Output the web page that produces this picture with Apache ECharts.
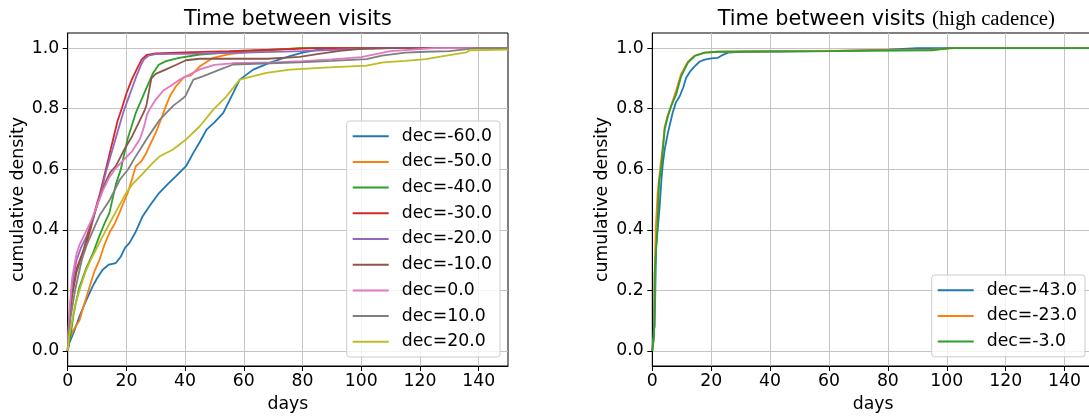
<!DOCTYPE html>
<html><head><meta charset="utf-8">
<script src="https://cdn.jsdelivr.net/npm/echarts@6/dist/echarts.min.js"></script>
<style>html,body{margin:0;padding:0;background:#fff}#c{width:1089px;height:416px}</style>
</head><body><div id="c"></div><script>
const xTicks = [0, 20, 40, 60, 80, 100, 120, 140];
const yTicks = [0, 0.2, 0.4, 0.6, 0.8, 1.0];
const leftNames = ['dec=-60.0','dec=-50.0','dec=-40.0','dec=-30.0','dec=-20.0','dec=-10.0','dec=0.0','dec=10.0','dec=20.0'];
const rightNames = ['dec=-43.0','dec=-23.0','dec=-3.0'];
const colors = ['#1f77b4','#ff7f0e','#2ca02c','#d62728','#9467bd','#8c564b','#e377c2','#7f7f7f','#bcbd22'];

const decM60 = [[0,0],[0.5,0.025],[2,0.06],[4,0.113],[6,0.16],[8.5,0.213],[10,0.24],[11.9,0.268],[14,0.285],[16.4,0.29],[18,0.31],[19.5,0.34],[21,0.356],[23,0.39],[25.5,0.444],[28,0.48],[31.2,0.522],[34,0.55],[36.9,0.577],[40.3,0.61],[42.8,0.654],[45,0.69],[47.3,0.731],[50,0.755],[53,0.786],[56.4,0.852],[58.6,0.896],[63.2,0.929],[68.9,0.952],[75.7,0.974],[80,0.985],[86,0.996],[90,1.0],[150,1.0]];
const decM50 = [[0,0],[0.5,0.036],[2,0.07],[4,0.10],[5.5,0.15],[7.4,0.21],[9,0.26],[10.8,0.30],[12.5,0.35],[14.2,0.39],[16,0.42],[17.6,0.455],[19,0.49],[20.4,0.52],[22,0.57],[23.2,0.61],[25,0.625],[26.6,0.65],[28,0.68],[30,0.72],[32,0.77],[33.5,0.81],[35,0.845],[36.9,0.874],[39.7,0.905],[42,0.91],[45,0.94],[49.6,0.968],[55,0.98],[65,0.99],[79,1.0],[150,1.0]];
const decM40 = [[0,0],[0.5,0.03],[1.1,0.06],[2,0.12],[2.8,0.16],[4,0.21],[6.2,0.27],[8.5,0.32],[10.8,0.38],[12.5,0.42],[14.2,0.455],[16.4,0.55],[18.1,0.60],[20.4,0.70],[23.2,0.786],[26.6,0.863],[29.1,0.918],[31,0.945],[33.5,0.957],[38,0.968],[45,0.979],[60,0.99],[80,1.0],[150,1.0]];
const decM30 = [[0,0],[0.5,0.1],[1.5,0.2],[3,0.27],[4.5,0.31],[6.5,0.36],[8,0.41],[9.5,0.47],[11,0.52],[12.5,0.58],[14,0.64],[15.5,0.70],[17,0.76],[18.4,0.80],[20,0.85],[21.8,0.895],[23.5,0.93],[25.2,0.963],[27,0.978],[30,0.983],[40,0.986],[55,0.99],[75,0.997],[85,1.0],[150,1.0]];
const decM20 = [[0,0],[0.5,0.11],[1.5,0.22],[3,0.30],[4.5,0.34],[6.5,0.38],[8.5,0.43],[10,0.48],[11.5,0.53],[13,0.59],[14.5,0.64],[16,0.69],[17.5,0.74],[19,0.79],[20.5,0.83],[22,0.87],[23.5,0.91],[25,0.945],[26,0.963],[27.5,0.975],[30,0.98],[45,0.982],[60,0.985],[80,0.99],[100,0.998],[110,1.0],[150,1.0]];
const decM10 = [[0,0],[0.5,0.08],[1.5,0.18],[3,0.26],[5,0.32],[7,0.39],[9,0.45],[11,0.51],[13,0.56],[14.5,0.59],[16.4,0.61],[19,0.66],[22,0.71],[24,0.75],[26,0.79],[26.8,0.81],[28.5,0.90],[30,0.915],[33.5,0.93],[37,0.945],[40.3,0.96],[45,0.965],[68,0.965],[79,0.971],[85,0.98],[92.7,0.991],[100,0.998],[110,1.0],[150,1.0]];
const dec0 = [[0,0],[0.5,0.12],[1.5,0.24],[3,0.32],[4,0.35],[6,0.39],[8,0.43],[10,0.48],[12,0.53],[14,0.57],[16.1,0.60],[18,0.62],[20,0.64],[22,0.66],[24.6,0.70],[26,0.74],[27,0.78],[28,0.80],[30,0.83],[32.6,0.86],[35,0.875],[38,0.895],[42,0.915],[45,0.93],[50,0.945],[56,0.95],[70,0.953],[80,0.957],[90,0.963],[100,0.97],[105,0.98],[110,0.99],[120,0.997],[125,1.0],[150,1.0]];
const dec10 = [[0,0],[0.8,0.1],[2.5,0.2],[4.8,0.3],[6.5,0.35],[8.7,0.4],[11,0.45],[14.4,0.5],[17.8,0.566],[20.6,0.6],[23,0.64],[25,0.67],[26.9,0.7],[29,0.73],[31.4,0.764],[34,0.79],[36,0.81],[38,0.825],[40,0.84],[41.5,0.87],[42.8,0.896],[46,0.907],[52,0.93],[56.4,0.946],[79,0.953],[90,0.958],[101.8,0.964],[107,0.975],[115,0.985],[122,0.988],[130,0.99],[139,1.0],[150,1.0]];
const dec20 = [[0,0],[0.5,0.05],[1.5,0.1],[2.5,0.15],[4,0.2],[6,0.26],[7.8,0.3],[9.6,0.334],[12,0.38],[14.2,0.42],[17,0.47],[19.8,0.52],[22,0.55],[25,0.58],[28.9,0.62],[31.4,0.643],[35.9,0.665],[40.5,0.70],[45,0.742],[49.6,0.797],[54.1,0.841],[58.6,0.896],[60.9,0.902],[67.7,0.918],[75.7,0.929],[85.9,0.935],[101.8,0.942],[107.5,0.953],[115,0.958],[122,0.964],[129,0.975],[135.8,0.986],[137,0.993],[150,0.995]];

const hcM43 = [[0,0],[0.5,0.07],[0.8,0.08],[1.3,0.345],[2,0.42],[2.5,0.477],[3.1,0.566],[3.6,0.62],[4.2,0.665],[5.3,0.72],[6.9,0.786],[8,0.82],[9.3,0.841],[10.5,0.87],[11.5,0.902],[13,0.925],[14.4,0.94],[16,0.955],[17.8,0.962],[20,0.966],[22.3,0.968],[24,0.978],[25.7,0.985],[30,0.988],[60,0.99],[80,0.995],[90,1.0],[150,1.0]];
const hcM23 = [[0,0],[0.6,0.05],[0.9,0.3],[1.2,0.41],[1.8,0.52],[2.2,0.56],[3,0.63],[3.6,0.68],[4.2,0.74],[5.3,0.78],[6.4,0.81],[8.1,0.86],[9.8,0.915],[12.1,0.955],[14.4,0.975],[17.8,0.985],[22,0.988],[50,0.99],[95,0.995],[103,1.0],[150,1.0]];
const hcM3 = [[0,0],[0.6,0.05],[0.8,0.257],[1.7,0.40],[2.3,0.555],[3.1,0.61],[3.6,0.665],[4.2,0.731],[5.3,0.775],[6.4,0.808],[8.1,0.847],[9.8,0.907],[12.1,0.952],[14.4,0.974],[17.8,0.985],[22.3,0.988],[60,0.99],[95,0.993],[101,1.0],[150,1.0]];

const leftData = [decM60, decM50, decM40, decM30, decM20, decM10, dec0, dec10, dec20];
const rightData = [hcM43, hcM23, hcM3];

const FONT = 'DejaVu Sans';
const FS = 17.3;
const TFS = 20.8;
function xAxis(i){
  return {type:'value', gridIndex:i, min:0, max:150, interval:20,
    name:'days', nameLocation:'middle', nameGap:30,
    nameTextStyle:{fontFamily:FONT, fontSize:FS, color:'#000'},
    axisLine:{show:true, onZero:false, lineStyle:{color:'#000', width:1}},
    axisTick:{show:true, length:5, customValues:xTicks, lineStyle:{color:'#000', width:1}},
    axisLabel:{customValues:xTicks, fontFamily:FONT, fontSize:FS, color:'#000', margin:7.5},
    splitLine:{show:true, lineStyle:{color:'#c4c4c4', width:1}}};
}
function yAxis(i){
  return {type:'value', gridIndex:i, min:-0.05, max:1.05,
    name:'cumulative density', nameLocation:'middle', nameGap:41,
    nameTextStyle:{fontFamily:FONT, fontSize:FS, color:'#000'},
    axisLine:{show:true, onZero:false, lineStyle:{color:'#000', width:1}},
    axisTick:{show:true, length:5, customValues:yTicks, lineStyle:{color:'#000', width:1}},
    axisLabel:{customValues:yTicks, fontFamily:FONT, fontSize:FS, color:'#000', margin:8.5,
      formatter:v=>Number(v).toFixed(1)},
    splitLine:{show:true, lineStyle:{color:'#c4c4c4', width:1}}};
}
const series = [];
leftData.forEach((d,k)=>series.push({type:'line', name:leftNames[k], xAxisIndex:0, yAxisIndex:0, data:d,
  showSymbol:false, symbol:'none', lineStyle:{width:1.8, color:colors[k]}, itemStyle:{color:colors[k]}}));
rightData.forEach((d,k)=>series.push({type:'line', name:rightNames[k], xAxisIndex:1, yAxisIndex:1, data:d,
  showSymbol:false, symbol:'none', lineStyle:{width:1.8, color:colors[k]}, itemStyle:{color:colors[k]}}));

const legendBase = {orient:'vertical', itemWidth:36, itemHeight:2, itemGap:6.7, icon:'rect',
  backgroundColor:'rgba(255,255,255,0.8)', borderColor:'#cccccc', borderWidth:1, borderRadius:3,
  selectedMode:false,
  textStyle:{fontFamily:FONT, fontSize:FS, color:'#000', lineHeight:19, padding:[0,0,0,8]}};

const gridBase = {top:33, height:333, show:true, borderColor:'#000', borderWidth:1,
  backgroundColor:'transparent', containLabel:false, outerBoundsMode:'none'};

const chart = echarts.init(document.getElementById('c'), null, {renderer:'canvas'});
chart.setOption({
  animation:false,
  backgroundColor:'#fff',
  title:[
    {text:'Time between visits', left:179, top:4.5, padding:5,
      textStyle:{fontFamily:FONT, fontSize:TFS, fontWeight:'normal', color:'#000'}},
    {text:'Time between visits {s|(high cadence)}', left:712.7, top:4.5, padding:5,
      textStyle:{fontFamily:FONT, fontSize:TFS, fontWeight:'normal', color:'#000',
        rich:{s:{fontFamily:'Liberation Serif', fontSize:TFS, color:'#000'}}}}
  ],
  grid:[
    Object.assign({}, gridBase, {left:67.7, width:440.3}),
    Object.assign({}, gridBase, {left:652.3, width:441.7})
  ],
  xAxis:[xAxis(0), xAxis(1)],
  yAxis:[yAxis(0), yAxis(1)],
  legend:[
    Object.assign({}, legendBase, {data:leftNames, left:346.7, top:121, padding:[5.7,8,5.7,6]}),
    Object.assign({}, legendBase, {data:rightNames, left:931.7, top:275, padding:[5.7,8,5.7,6]})
  ],
  series:series
});
</script></body></html>
